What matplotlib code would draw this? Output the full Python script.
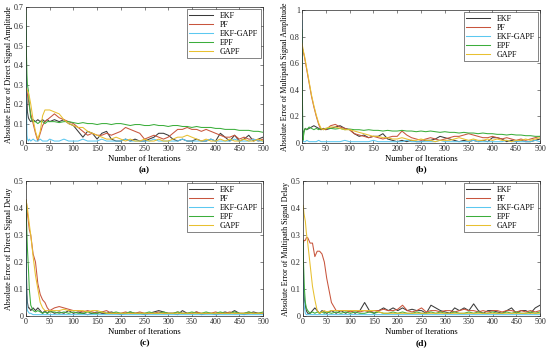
import matplotlib
matplotlib.use("Agg")
import matplotlib.pyplot as plt

plt.rcParams['font.family'] = ['Liberation Serif', 'DejaVu Serif']

ITER = [0, 1, 2, 3, 5, 7, 10, 15, 20, 25, 30, 35, 40, 45, 50] + list(range(60, 501, 10))

LABELS = ["EKF", "PF", "EKF-GAPF", "EPF", "GAPF"]
COLORS = ["#3a3a3a", "#c8553d", "#5bc8f0", "#3cae3c", "#e8c030"]

# ---------------- (a) Direct Signal Amplitude ----------------
a_ekf = [0.35, 0.30, 0.22, 0.16, 0.13, 0.12, 0.11, 0.12, 0.11, 0.12, 0.11, 0.12, 0.11, 0.12, 0.11,
         0.12, 0.11, 0.12, 0.10, 0.09, 0.06, 0.03, 0.06, 0.05, 0.02, 0.05, 0.06, 0.02, 0.01, 0.01,
         0.02, 0.01, 0.02, 0.01, 0.01, 0.02, 0.03, 0.05, 0.05, 0.04, 0.02, 0.01, 0.02, 0.01, 0.01,
         0.02, 0.01, 0.01, 0.02, 0.01, 0.05, 0.03, 0.01, 0.04, 0.01, 0.02, 0.04, 0.01, 0.02, 0.03]
a_pf = [0.30, 0.28, 0.26, 0.25, 0.22, 0.19, 0.15, 0.10, 0.05, 0.01, 0.05, 0.09, 0.11, 0.12, 0.13,
        0.15, 0.13, 0.12, 0.11, 0.10, 0.08, 0.06, 0.04, 0.05, 0.04, 0.04, 0.05, 0.04, 0.05, 0.06,
        0.08, 0.07, 0.06, 0.05, 0.02, 0.03, 0.04, 0.03, 0.02, 0.03, 0.05, 0.07, 0.07, 0.08, 0.07,
        0.07, 0.06, 0.07, 0.06, 0.05, 0.04, 0.03, 0.03, 0.04, 0.02, 0.03, 0.02, 0.02, 0.01, 0.02]
a_ekfgapf = [0.60, 0.20, 0.04, 0.02, 0.01, 0.02, 0.01, 0.02, 0.01, 0.01, 0.02, 0.01, 0.01, 0.01, 0.02,
             0.01, 0.01, 0.02, 0.01, 0.01, 0.01, 0.02, 0.01, 0.01, 0.01, 0.02, 0.01, 0.01, 0.01, 0.01,
             0.02, 0.01, 0.01, 0.01, 0.01, 0.01, 0.02, 0.01, 0.01, 0.01, 0.01, 0.01, 0.02, 0.01, 0.01,
             0.01, 0.01, 0.01, 0.02, 0.01, 0.01, 0.01, 0.01, 0.02, 0.01, 0.01, 0.01, 0.02, 0.01, 0.01]
a_epf = [0.68, 0.45, 0.35, 0.30, 0.27, 0.20, 0.13, 0.11, 0.11, 0.10, 0.11, 0.11, 0.10, 0.11, 0.11,
         0.11, 0.105, 0.11, 0.11, 0.105, 0.10, 0.105, 0.10, 0.10, 0.095, 0.10, 0.10, 0.095, 0.10, 0.10,
         0.095, 0.09, 0.095, 0.095, 0.09, 0.09, 0.095, 0.09, 0.09, 0.085, 0.09, 0.09, 0.085, 0.085, 0.08,
         0.085, 0.08, 0.08, 0.08, 0.075, 0.075, 0.07, 0.07, 0.07, 0.065, 0.065, 0.065, 0.06, 0.06, 0.055]
a_gapf = [0.28, 0.28, 0.27, 0.27, 0.26, 0.24, 0.20, 0.12, 0.06, 0.02, 0.06, 0.14, 0.17, 0.17, 0.17,
          0.16, 0.15, 0.12, 0.10, 0.09, 0.08, 0.08, 0.06, 0.05, 0.04, 0.03, 0.02, 0.02, 0.03, 0.02,
          0.01, 0.02, 0.01, 0.01, 0.02, 0.01, 0.01, 0.02, 0.01, 0.01, 0.02, 0.03, 0.03, 0.04, 0.03,
          0.02, 0.01, 0.02, 0.01, 0.01, 0.02, 0.01, 0.02, 0.01, 0.01, 0.02, 0.01, 0.01, 0.02, 0.01]

# ---------------- (b) Multipath Signal Amplitude ----------------
b_ekf = [0.05, 0.04, 0.06, 0.08, 0.10, 0.11, 0.10, 0.11, 0.12, 0.13, 0.12, 0.11, 0.10, 0.11, 0.10,
         0.11, 0.12, 0.13, 0.11, 0.10, 0.07, 0.05, 0.06, 0.04, 0.05, 0.05, 0.07, 0.03, 0.02, 0.01,
         0.02, 0.01, 0.02, 0.01, 0.01, 0.02, 0.02, 0.03, 0.05, 0.04, 0.03, 0.02, 0.01, 0.02, 0.01,
         0.02, 0.01, 0.02, 0.01, 0.04, 0.04, 0.03, 0.01, 0.02, 0.01, 0.02, 0.01, 0.01, 0.02, 0.03]
b_pf = [0.72, 0.71, 0.70, 0.68, 0.65, 0.61, 0.55, 0.45, 0.35, 0.27, 0.20, 0.14, 0.10, 0.11, 0.10,
        0.13, 0.14, 0.12, 0.11, 0.10, 0.07, 0.06, 0.05, 0.04, 0.05, 0.04, 0.03, 0.04, 0.05, 0.05,
        0.09, 0.06, 0.04, 0.03, 0.02, 0.03, 0.04, 0.03, 0.02, 0.03, 0.04, 0.05, 0.05, 0.06, 0.07,
        0.06, 0.05, 0.04, 0.04, 0.05, 0.04, 0.03, 0.04, 0.03, 0.02, 0.03, 0.02, 0.03, 0.04, 0.05]
b_ekfgapf = [0.92, 0.10, 0.02, 0.01, 0.01, 0.01, 0.02, 0.01, 0.01, 0.01, 0.01, 0.02, 0.01, 0.01, 0.01,
             0.01, 0.01, 0.01, 0.02, 0.01, 0.01, 0.01, 0.01, 0.01, 0.02, 0.01, 0.01, 0.01, 0.01, 0.01,
             0.01, 0.02, 0.01, 0.01, 0.01, 0.01, 0.01, 0.01, 0.02, 0.01, 0.01, 0.01, 0.01, 0.01, 0.01,
             0.02, 0.01, 0.01, 0.01, 0.01, 0.01, 0.01, 0.02, 0.01, 0.01, 0.01, 0.01, 0.01, 0.02, 0.01]
b_epf = [0.85, 0.30, 0.02, 0.05, 0.09, 0.11, 0.10, 0.12, 0.11, 0.10, 0.11, 0.10, 0.11, 0.10, 0.11,
         0.11, 0.105, 0.11, 0.10, 0.105, 0.10, 0.10, 0.095, 0.10, 0.095, 0.095, 0.09, 0.095, 0.09, 0.09,
         0.095, 0.09, 0.09, 0.085, 0.09, 0.085, 0.09, 0.085, 0.08, 0.085, 0.08, 0.08, 0.075, 0.08, 0.075,
         0.075, 0.07, 0.075, 0.07, 0.07, 0.065, 0.065, 0.06, 0.065, 0.06, 0.06, 0.055, 0.055, 0.05, 0.05]
b_gapf = [0.75, 0.73, 0.71, 0.69, 0.66, 0.62, 0.56, 0.46, 0.36, 0.28, 0.21, 0.15, 0.11, 0.10, 0.11,
          0.12, 0.12, 0.11, 0.10, 0.10, 0.09, 0.08, 0.07, 0.06, 0.05, 0.05, 0.04, 0.04, 0.03, 0.03,
          0.04, 0.03, 0.02, 0.02, 0.03, 0.02, 0.02, 0.01, 0.02, 0.02, 0.02, 0.03, 0.04, 0.03, 0.02,
          0.03, 0.02, 0.02, 0.03, 0.02, 0.03, 0.02, 0.02, 0.01, 0.02, 0.02, 0.03, 0.02, 0.03, 0.04]

# ---------------- (c) Direct Signal Delay ----------------
c_ekf = [0.30, 0.15, 0.08, 0.05, 0.03, 0.03, 0.02, 0.03, 0.02, 0.03, 0.02, 0.01, 0.02, 0.01, 0.02,
         0.01, 0.015, 0.01, 0.02, 0.01, 0.015, 0.01, 0.005, 0.01, 0.015, 0.01, 0.01, 0.015, 0.01, 0.005,
         0.01, 0.015, 0.01, 0.01, 0.005, 0.01, 0.015, 0.02, 0.015, 0.01, 0.01, 0.005, 0.02, 0.01, 0.01,
         0.015, 0.005, 0.01, 0.01, 0.005, 0.01, 0.015, 0.01, 0.02, 0.01, 0.005, 0.01, 0.015, 0.01, 0.01]
c_pf = [0.43, 0.42, 0.40, 0.38, 0.35, 0.32, 0.30, 0.23, 0.20, 0.12, 0.08, 0.06, 0.05, 0.03, 0.02,
        0.03, 0.035, 0.03, 0.025, 0.02, 0.02, 0.015, 0.02, 0.015, 0.01, 0.015, 0.02, 0.01, 0.01, 0.01,
        0.015, 0.01, 0.01, 0.015, 0.01, 0.01, 0.01, 0.015, 0.01, 0.01, 0.01, 0.015, 0.01, 0.01, 0.01,
        0.015, 0.01, 0.01, 0.01, 0.015, 0.01, 0.01, 0.015, 0.01, 0.01, 0.01, 0.015, 0.01, 0.01, 0.01]
c_ekfgapf = [0.32, 0.10, 0.03, 0.02, 0.015, 0.01, 0.01, 0.005, 0.005, 0.005, 0.005, 0.005, 0.005, 0.005, 0.005,
             0.005, 0.005, 0.005, 0.005, 0.005, 0.005, 0.005, 0.005, 0.005, 0.005, 0.005, 0.005, 0.005, 0.005, 0.005,
             0.005, 0.005, 0.005, 0.005, 0.005, 0.005, 0.005, 0.005, 0.005, 0.005, 0.005, 0.005, 0.005, 0.005, 0.005,
             0.005, 0.005, 0.005, 0.005, 0.005, 0.005, 0.005, 0.005, 0.005, 0.005, 0.005, 0.005, 0.005, 0.005, 0.005]
c_epf = [0.42, 0.36, 0.30, 0.25, 0.18, 0.10, 0.04, 0.02, 0.015, 0.02, 0.015, 0.01, 0.015, 0.01, 0.015,
         0.015, 0.01, 0.015, 0.01, 0.015, 0.01, 0.01, 0.015, 0.01, 0.01, 0.015, 0.01, 0.01, 0.015, 0.01,
         0.01, 0.015, 0.01, 0.01, 0.01, 0.015, 0.01, 0.01, 0.015, 0.01, 0.01, 0.015, 0.01, 0.01, 0.015,
         0.01, 0.01, 0.015, 0.01, 0.01, 0.015, 0.01, 0.01, 0.015, 0.01, 0.01, 0.015, 0.01, 0.01, 0.015]
c_gapf = [0.43, 0.42, 0.41, 0.40, 0.37, 0.34, 0.30, 0.22, 0.15, 0.10, 0.05, 0.03, 0.02, 0.02, 0.02,
          0.02, 0.02, 0.025, 0.02, 0.02, 0.02, 0.02, 0.015, 0.02, 0.02, 0.015, 0.01, 0.01, 0.01, 0.01,
          0.01, 0.01, 0.01, 0.01, 0.01, 0.01, 0.01, 0.01, 0.01, 0.01, 0.01, 0.01, 0.01, 0.01, 0.01,
          0.01, 0.01, 0.01, 0.01, 0.01, 0.01, 0.01, 0.01, 0.01, 0.01, 0.01, 0.01, 0.01, 0.01, 0.01]

# ---------------- (d) Multipath Signal Delay ----------------
d_ekf = [0.28, 0.10, 0.08, 0.06, 0.04, 0.02, 0.01, 0.01, 0.02, 0.03, 0.02, 0.01, 0.02, 0.015, 0.01,
         0.02, 0.01, 0.02, 0.01, 0.02, 0.01, 0.02, 0.05, 0.02, 0.01, 0.02, 0.03, 0.02, 0.03, 0.02,
         0.03, 0.02, 0.025, 0.02, 0.02, 0.01, 0.04, 0.03, 0.02, 0.015, 0.01, 0.03, 0.02, 0.03, 0.02,
         0.045, 0.02, 0.01, 0.02, 0.02, 0.015, 0.01, 0.02, 0.03, 0.01, 0.02, 0.02, 0.01, 0.03, 0.04]
d_pf = [0.27, 0.27, 0.28, 0.28, 0.28, 0.29, 0.29, 0.27, 0.27, 0.22, 0.24, 0.24, 0.23, 0.20, 0.14,
        0.05, 0.02, 0.02, 0.02, 0.015, 0.02, 0.015, 0.02, 0.015, 0.02, 0.02, 0.025, 0.02, 0.02, 0.025,
        0.04, 0.02, 0.015, 0.02, 0.03, 0.015, 0.02, 0.02, 0.015, 0.02, 0.02, 0.015, 0.02, 0.025, 0.02,
        0.02, 0.015, 0.02, 0.015, 0.02, 0.02, 0.015, 0.02, 0.02, 0.015, 0.02, 0.015, 0.02, 0.015, 0.02]
d_ekfgapf = [0.27, 0.10, 0.05, 0.03, 0.01, 0.005, 0.005, 0.005, 0.005, 0.005, 0.005, 0.005, 0.005, 0.005, 0.005,
             0.005, 0.005, 0.005, 0.005, 0.005, 0.005, 0.005, 0.005, 0.005, 0.005, 0.005, 0.005, 0.005, 0.005, 0.005,
             0.005, 0.005, 0.005, 0.005, 0.005, 0.005, 0.005, 0.005, 0.005, 0.005, 0.005, 0.005, 0.005, 0.005, 0.005,
             0.005, 0.005, 0.005, 0.005, 0.005, 0.005, 0.005, 0.005, 0.005, 0.005, 0.005, 0.005, 0.005, 0.005, 0.005]
d_epf = [0.28, 0.20, 0.15, 0.10, 0.05, 0.03, 0.02, 0.01, 0.015, 0.01, 0.015, 0.01, 0.015, 0.01, 0.015,
         0.01, 0.015, 0.01, 0.015, 0.01, 0.015, 0.01, 0.01, 0.015, 0.01, 0.015, 0.01, 0.01, 0.015, 0.01,
         0.015, 0.01, 0.01, 0.015, 0.01, 0.01, 0.015, 0.01, 0.015, 0.01, 0.01, 0.015, 0.01, 0.01, 0.015,
         0.01, 0.015, 0.01, 0.01, 0.015, 0.01, 0.01, 0.015, 0.01, 0.015, 0.01, 0.01, 0.015, 0.01, 0.015]
d_gapf = [0.41, 0.40, 0.38, 0.37, 0.35, 0.31, 0.27, 0.19, 0.11, 0.06, 0.02, 0.01, 0.015, 0.02, 0.015,
          0.02, 0.02, 0.02, 0.02, 0.02, 0.02, 0.02, 0.02, 0.02, 0.02, 0.015, 0.01, 0.01, 0.01, 0.01,
          0.01, 0.01, 0.01, 0.01, 0.01, 0.01, 0.01, 0.01, 0.01, 0.01, 0.01, 0.01, 0.01, 0.01, 0.01,
          0.01, 0.01, 0.01, 0.01, 0.01, 0.01, 0.01, 0.01, 0.01, 0.01, 0.01, 0.01, 0.01, 0.01, 0.01]

PANELS = [
    dict(series=[a_ekf, a_pf, a_ekfgapf, a_epf, a_gapf], ylabel="Absolute Error of Direct Signal Amplitude",
         ylim=0.7, yticks=[0, 0.1, 0.2, 0.3, 0.4, 0.5, 0.6, 0.7], tag="(a)",
         rect=[26/550, 1-143/352, 237/550, 136/352]),
    dict(series=[b_ekf, b_pf, b_ekfgapf, b_epf, b_gapf], ylabel="Absolute Error of Multipath Signal Amplitude",
         ylim=1.0, yticks=[0, 0.2, 0.4, 0.6, 0.8, 1], tag="(b)",
         rect=[302/550, 1-143/352, 238/550, 133/352]),
    dict(series=[c_ekf, c_pf, c_ekfgapf, c_epf, c_gapf], ylabel="Absolute Error of Direct Signal Delay",
         ylim=0.5, yticks=[0, 0.1, 0.2, 0.3, 0.4, 0.5], tag="(c)",
         rect=[26/550, 1-316/352, 237/550, 135/352]),
    dict(series=[d_ekf, d_pf, d_ekfgapf, d_epf, d_gapf], ylabel="Absolute Error of Multipath Signal Delay",
         ylim=0.5, yticks=[0, 0.1, 0.2, 0.3, 0.4, 0.5], tag="(d)",
         rect=[303/550, 1-316/352, 237/550, 135/352]),
]

XTICKS = [0, 50, 100, 150, 200, 250, 300, 350, 400, 450, 500]
FS = 5.8

fig = plt.figure(figsize=(5.5, 3.52), dpi=100)
for p in PANELS:
    ax = fig.add_axes(p["rect"])
    for vals, lab, col in zip(p["series"], LABELS, COLORS):
        ax.plot(ITER, vals, color=col, lw=0.75, label=lab)
    ax.set_xlim(0, 500)
    ax.set_ylim(0, p["ylim"])
    ax.set_xticks(XTICKS)
    ax.set_yticks(p["yticks"])
    ax.set_yticklabels([("%g" % v) for v in p["yticks"]])
    ax.tick_params(direction="in", top=True, right=True, length=2, width=0.4,
                   labelsize=FS, pad=1.5, colors="#262626")
    for s in ax.spines.values():
        s.set_linewidth(0.5)
        s.set_color("#262626")
    ax.set_xlabel("Number of Iterations", fontsize=FS + 0.4, labelpad=1.5)
    ax.set_ylabel(p["ylabel"], fontsize=FS, labelpad=1)
    leg = ax.legend(loc="upper right", fontsize=FS, frameon=True, fancybox=False,
                    edgecolor="#262626", framealpha=1, handlelength=3.0, handletextpad=0.8,
                    borderpad=0.3, labelspacing=0.12, borderaxespad=0.3)
    leg.get_frame().set_linewidth(0.4)
    ax.text(0.5, -0.17, p["tag"], transform=ax.transAxes, ha="center", va="top",
            fontsize=FS + 1, fontweight="bold")

fig.savefig("out.png", dpi=100)
